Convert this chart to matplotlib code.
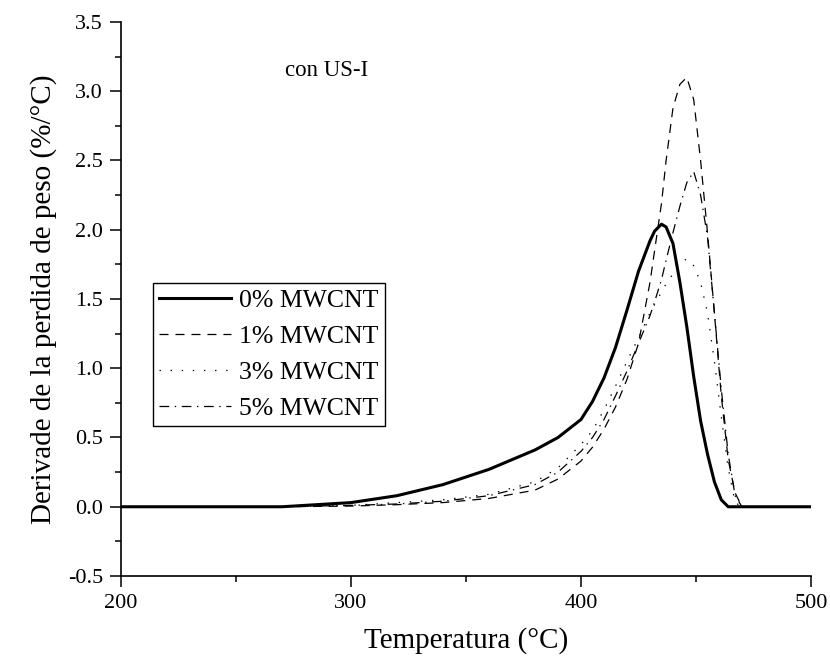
import matplotlib
matplotlib.use('Agg')
import matplotlib.pyplot as plt
from matplotlib.ticker import MultipleLocator

plt.rcParams.update({
    'font.family': ['Liberation Serif', 'DejaVu Serif'],
    'lines.scale_dashes': False,
    'axes.spines.top': False,
    'axes.spines.right': False,
})

# temperatura (°C) and derivative of weight loss (%/°C)
temp = [200, 270, 300, 320, 340, 360, 380, 390, 400, 405, 410, 415, 420, 425,
        430, 432, 435, 437, 440, 443, 446, 449, 452, 455, 458, 461, 464, 467, 470, 500]
mw0 = [0, 0, 0.03, 0.08, 0.16, 0.27, 0.41, 0.50, 0.63, 0.76, 0.93, 1.15, 1.42, 1.70,
       1.92, 1.99, 2.04, 2.02, 1.90, 1.62, 1.30, 0.94, 0.62, 0.38, 0.18, 0.05, 0, 0, 0, 0]
mw1 = [0, 0, 0.005, 0.015, 0.03, 0.06, 0.12, 0.20, 0.33, 0.43, 0.56, 0.72, 0.92, 1.18,
       1.62, 1.85, 2.19, 2.50, 2.88, 3.05, 3.10, 2.94, 2.50, 1.98, 1.40, 0.80, 0.34, 0.10, 0, 0]
mw3 = [0, 0, 0.01, 0.03, 0.05, 0.09, 0.18, 0.28, 0.45, 0.55, 0.70, 0.87, 1.05, 1.22,
       1.40, 1.46, 1.55, 1.61, 1.68, 1.76, 1.79, 1.74, 1.62, 1.40, 1.05, 0.65, 0.28, 0.03, 0, 0]
mw5 = [0, 0, 0.01, 0.02, 0.04, 0.08, 0.16, 0.25, 0.40, 0.50, 0.63, 0.80, 0.98, 1.18,
       1.38, 1.48, 1.64, 1.78, 1.98, 2.17, 2.34, 2.42, 2.25, 1.95, 1.40, 0.85, 0.38, 0.08, 0, 0]
labels = ['0% MWCNT', '1% MWCNT', '3% MWCNT', '5% MWCNT']

fig = plt.figure(figsize=(8.3, 6.62), dpi=100)
ax = fig.add_axes([0.1458, 0.1299, 0.8313, 0.8369])

ax.plot(temp, mw1, color='black', lw=0.9, ls=(0, (6.5, 5)), label=labels[1])
ax.plot(temp, mw3, color='black', lw=0.9, ls=(0, (1, 7)), label=labels[2])
ax.plot(temp, mw5, color='black', lw=0.9, ls=(0, (7, 4, 1, 4)), label=labels[3])
ax.plot(temp, mw0, color='black', lw=2.2, label=labels[0])

ax.set_xlim(200, 500)
ax.set_ylim(-0.5, 3.5)
ax.xaxis.set_major_locator(MultipleLocator(100))
ax.xaxis.set_minor_locator(MultipleLocator(50))
ax.yaxis.set_major_locator(MultipleLocator(0.5))
ax.yaxis.set_minor_locator(MultipleLocator(0.25))
ax.yaxis.set_major_formatter(plt.FuncFormatter(lambda v, p: f'{v:.1f}'))
ax.tick_params(which='major', direction='out', length=8, width=1.1, labelsize=16, pad=5)
ax.tick_params(which='minor', direction='out', length=4.5, width=1.1)
for s in ('left', 'bottom'):
    ax.spines[s].set_linewidth(1.2)

ax.set_xlabel('Temperatura (°C)', fontsize=21, labelpad=10)
ax.set_ylabel('Derivade de la perdida de peso (%/°C)', fontsize=21, labelpad=8)

ax.text(0.238, 0.913, 'con US-I', transform=ax.transAxes, fontsize=16.5,
        ha='left', va='center')

h, l = ax.get_legend_handles_labels()
order = [3, 0, 1, 2]
leg = ax.legend([h[i] for i in order], [l[i] for i in order],
                loc='upper left', bbox_to_anchor=(0.0464, 0.529), borderaxespad=0,
                fontsize=18.5, handlelength=2.8, handletextpad=0.3,
                labelspacing=0.5, borderpad=0.25, fancybox=False, framealpha=1,
                edgecolor='black')
leg.get_frame().set_linewidth(1.0)

fig.savefig('out.png', dpi=100, facecolor='white')
